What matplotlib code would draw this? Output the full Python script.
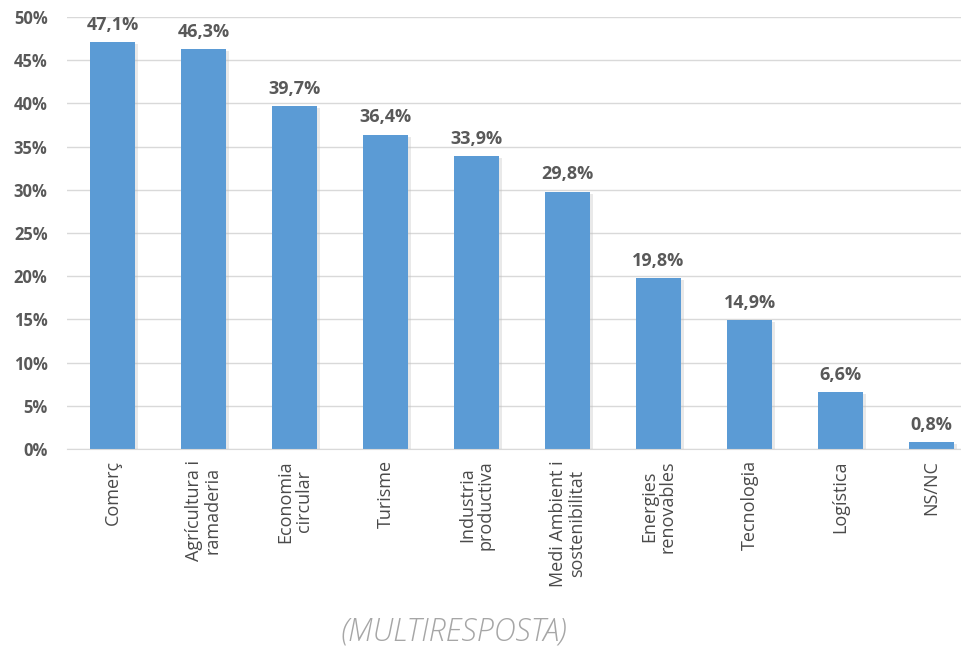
import matplotlib
matplotlib.use("Agg")
import matplotlib.pyplot as plt
import matplotlib.patheffects as pe
from matplotlib.ticker import FuncFormatter

categories = ["Comerç", "Agrícultura i\nramaderia", "Economia\ncircular", "Turisme",
              "Industria\nproductiva", "Medi Ambient i\nsostenibilitat", "Energies\nrenovables",
              "Tecnologia", "Logística", "NS/NC"]
values = [47.1, 46.3, 39.7, 36.4, 33.9, 29.8, 19.8, 14.9, 6.6, 0.8]
yticks = [0, 5, 10, 15, 20, 25, 30, 35, 40, 45, 50]

plt.rcParams['font.family'] = ['Open Sans', 'DejaVu Sans']
GRAY = "#595959"

fig = plt.figure(figsize=(9.62, 6.49), dpi=100)
ax = fig.add_axes([67 / 962, 1 - 449 / 649, 895 / 962, 432 / 649])

x = list(range(len(categories)))
bars = ax.bar(x, values, width=0.5, color="#5B9BD5", zorder=3,
              path_effects=[pe.SimplePatchShadow(offset=(2, -1.5), shadow_rgbFace="#c0c0c0", alpha=0.35), pe.Normal()])

for xi, v in zip(x, values):
    ax.annotate(f"{v:.1f}%".replace(".", ","), (xi, v), xytext=(0, 6), textcoords="offset points",
                ha="center", va="bottom", fontsize=13, fontweight="bold", color=GRAY)

ax.set_xlim(-0.5, 9.335)
ax.set_ylim(0, 50)
ax.set_yticks(yticks)
ax.yaxis.set_major_formatter(FuncFormatter(lambda v, p: f"{v:.0f}%"))
ax.grid(axis="y", color="#D9D9D9", linewidth=1, zorder=0)
ax.set_xticks(x)
ax.set_xticklabels(categories, rotation=90, ha="center", va="top", fontsize=13, color="#4a4a4a",
                   multialignment="center", linespacing=1.05)
for lab in ax.get_yticklabels():
    lab.set_fontweight("bold")
    lab.set_color(GRAY)
    lab.set_fontsize(12)
ax.tick_params(axis="both", length=0)
ax.tick_params(axis="y", pad=14)
ax.tick_params(axis="x", pad=8)
for s in ["top", "right", "left"]:
    ax.spines[s].set_visible(False)
ax.spines["bottom"].set_color("#D9D9D9")
ax.spines["bottom"].set_zorder(4)

fig.text(454 / 962, 1 - 632 / 649, "(MULTIRESPOSTA)", ha="center", va="center",
         fontsize=22, style="italic", color="#A6A6A6", fontweight="light")

fig.savefig("out.png", dpi=100)
